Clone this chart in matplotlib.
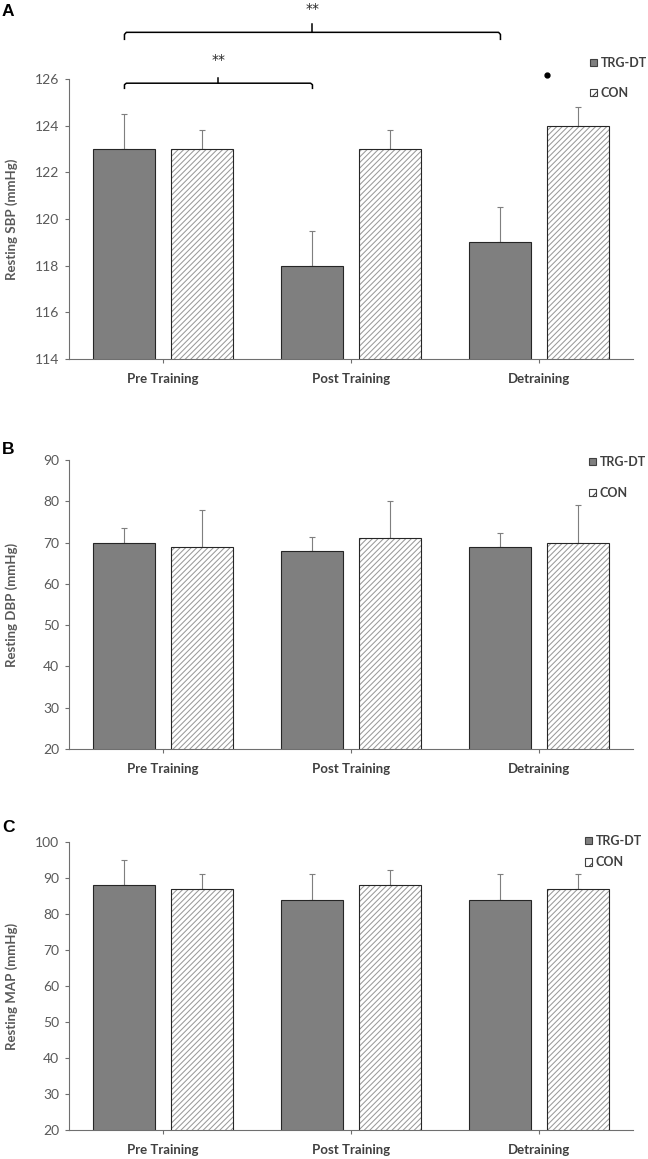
import numpy as np
import matplotlib
matplotlib.use("Agg")
import matplotlib.pyplot as plt
from matplotlib.patches import Patch

# data
groups = ["Pre Training", "Post Training", "Detraining"]
series = ["TRG-DT", "CON"]

sbp_trg = [123, 118, 119]
sbp_trg_err = [1.5, 1.5, 1.5]
sbp_con = [123, 123, 124]
sbp_con_err = [0.8, 0.8, 0.8]

dbp_trg = [70, 68, 69]
dbp_trg_err = [3.6, 3.3, 3.4]
dbp_con = [69, 71, 70]
dbp_con_err = [9.0, 9.0, 9.0]

map_trg = [88, 84, 84]
map_trg_err = [7.1, 7.0, 7.0]
map_con = [87, 88, 87]
map_con_err = [4.2, 4.3, 4.2]

plt.rcParams['hatch.linewidth'] = 0.75
plt.rcParams['hatch.color'] = '#9a9a9a'

TXT = '#595959'
CAT = '#404040'
W, H = 648, 1159

fig = plt.figure(figsize=(6.48, 11.59), dpi=100)


def px_axes(top, bottom, left=69, right=633):
    return fig.add_axes([left / W, 1 - bottom / H, (right - left) / W, (bottom - top) / H])


def panel(ax, trg, trg_err, con, con_err, ylim, step, ylabel, leg_space):
    x = np.arange(len(groups))
    bw = 0.33
    off = 0.205
    ax.bar(x - off, trg, bw, color='#7f7f7f', edgecolor='#262626', linewidth=0.8, zorder=2)
    # hatched CON bars: hatch first, then outline
    ax.bar(x + off, con, bw, color='white', edgecolor='#9a9a9a', hatch='//////', linewidth=0, zorder=2)
    ax.bar(x + off, con, bw, fill=False, edgecolor='#262626', linewidth=0.8, zorder=3)
    ax.errorbar(x - off, trg, yerr=[np.zeros(3), trg_err], fmt='none', ecolor='#7f7f7f',
                elinewidth=0.8, capsize=2.5, capthick=0.8, zorder=1)
    ax.errorbar(x + off, con, yerr=[np.zeros(3), con_err], fmt='none', ecolor='#7f7f7f',
                elinewidth=0.8, capsize=2.5, capthick=0.8, zorder=1)

    ax.set_xlim(-0.5, 2.5)
    ax.set_ylim(*ylim)
    ax.set_yticks(np.arange(ylim[0], ylim[1] + step / 2, step))
    ax.set_xticks(x)
    ax.set_xticklabels(groups, fontsize=9.5, fontweight='bold', color=CAT, family='Lato')
    for s in ['top', 'right']:
        ax.spines[s].set_visible(False)
    for s in ['left', 'bottom']:
        ax.spines[s].set_color('#6f6f6f')
        ax.spines[s].set_linewidth(0.8)
    ax.tick_params(axis='y', direction='out', length=3, width=0.8, color='#6f6f6f',
                   labelsize=10, labelcolor=TXT, pad=4)
    ax.tick_params(axis='x', direction='out', length=3, width=0.8, color='#6f6f6f', pad=7)
    for t in ax.get_yticklabels():
        t.set_family('Lato')
    ax.set_ylabel(ylabel, fontsize=9.5, fontweight='bold', color=TXT, family='Lato')
    ax.yaxis.set_label_coords(-0.09, 0.5)

    handles = [Patch(facecolor='#7f7f7f', edgecolor='#404040', linewidth=0.8),
               Patch(facecolor='white', edgecolor='#404040', hatch='///', linewidth=0.8)]
    leg = ax.legend(handles, series, loc='upper left', frameon=False, handlelength=0.55,
                    handleheight=0.55, handletextpad=0.3, labelspacing=leg_space,
                    prop={'family': 'Lato', 'weight': 'bold', 'size': 9}, borderaxespad=0)
    for t in leg.get_texts():
        t.set_color(CAT)
    return leg


# panel A
axA = px_axes(79, 359)
legA = panel(axA, sbp_trg, sbp_trg_err, sbp_con, sbp_con_err, (114, 126), 2, 'Resting SBP (mmHg)', 1.45)
legA.set_bbox_to_anchor((585 / W, 1 - 52 / H), transform=fig.transFigure)


def bracket(ax, x0, x1, y, drop, rise, label, label_y):
    xm = (x0 + x1) / 2
    ax.plot([x0, x0, x0 + 0.01, x1 - 0.01, x1, x1], [y - drop, y - drop * 0.3, y, y, y - drop * 0.3, y - drop],
            color='black', lw=1.1, clip_on=False, solid_joinstyle='round')
    ax.plot([xm, xm], [y, y + rise], color='black', lw=1.1, clip_on=False)
    ax.text(xm, label_y, label, ha='center', va='center', fontsize=10, color='#262626', clip_on=False)


bracket(axA, -0.205, 1.795, 128.0, 0.3, 0.35, '**', 129.0)
bracket(axA, -0.205, 0.795, 125.82, 0.22, 0.22, '**', 126.8)
axA.plot([2.04], [126.17], 'o', color='black', markersize=3.5, clip_on=False)

# panel B
axB = px_axes(460, 749)
legB = panel(axB, dbp_trg, dbp_trg_err, dbp_con, dbp_con_err, (20, 90), 10, 'Resting DBP (mmHg)', 1.5)
legB.set_bbox_to_anchor((584 / W, 1 - 451 / H), transform=fig.transFigure)

# panel C
axC = px_axes(842, 1130)
legC = panel(axC, map_trg, map_trg_err, map_con, map_con_err, (20, 100), 10, 'Resting MAP (mmHg)', 0.75)
legC.set_bbox_to_anchor((580 / W, 1 - 830 / H), transform=fig.transFigure)

for letter, y in [('A', 11), ('B', 450), ('C', 828)]:
    fig.text(2 / W, 1 - y / H, letter, fontsize=12.5, fontweight='bold', family='Liberation Sans',
             va='center', ha='left', color='black')

fig.savefig('out.png', dpi=100)
